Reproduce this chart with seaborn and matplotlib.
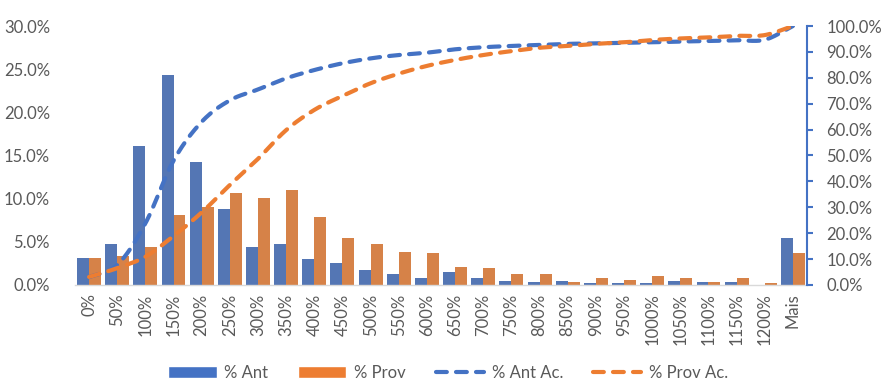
import numpy as np
import pandas as pd
import matplotlib
matplotlib.use("Agg")
import matplotlib.pyplot as plt
from matplotlib.ticker import FuncFormatter, MultipleLocator
from matplotlib.patches import Patch
import seaborn as sns

# Faixas de variação (classes do histograma)
categorias = ["0%", "50%", "100%", "150%", "200%", "250%", "300%", "350%", "400%",
              "450%", "500%", "550%", "600%", "650%", "700%", "750%", "800%", "850%",
              "900%", "950%", "1000%", "1050%", "1100%", "1150%", "1200%", "Mais"]

# Frequência relativa por classe (%)
pct_ant = [3.1, 4.7, 16.1, 24.3, 14.2, 8.8, 4.4, 4.8, 3.0, 2.6, 1.7, 1.3, 0.8,
           1.5, 0.8, 0.45, 0.35, 0.5, 0.2, 0.2, 0.2, 0.45, 0.35, 0.35, 0.05, 5.4]
pct_prov = [3.1, 3.4, 4.4, 8.1, 9.0, 10.6, 10.1, 11.0, 7.9, 5.4, 4.8, 3.8, 3.7,
            2.1, 2.0, 1.3, 1.3, 0.35, 0.8, 0.6, 1.05, 0.8, 0.35, 0.8, 0.2, 3.7]

# Frequência acumulada (%)
pct_ant_ac = [3.0, 7.7, 23.8, 48.0, 63.0, 71.3, 75.5, 79.8, 83.0, 85.6, 87.5, 88.8,
              89.7, 91.0, 91.8, 92.3, 92.7, 93.1, 93.3, 93.5, 93.7, 94.0, 94.2,
              94.5, 94.7, 100.0]
pct_prov_ac = [3.1, 6.5, 10.9, 18.9, 28.0, 38.6, 48.7, 59.8, 67.6, 73.0, 77.9, 81.6,
               84.6, 86.9, 88.8, 90.3, 91.6, 92.3, 93.1, 93.7, 94.6, 95.2, 95.6,
               96.2, 96.5, 100.0]

AZUL = "#4472C4"
LARANJA = "#ED7D31"
CINZA = "#595959"

sns.set_theme(style="white")
plt.rcParams["font.family"] = ["Lato", "DejaVu Sans"]

df = pd.DataFrame({
    "classe": categorias * 2,
    "valor": pct_ant + pct_prov,
    "serie": ["% Ant"] * len(categorias) + ["% Prov"] * len(categorias),
})

fig = plt.figure(figsize=(8.82, 3.87), dpi=100)
ax = fig.add_axes([0.085, 0.2636, 0.83, 0.6692])

sns.barplot(data=df, x="classe", y="valor", hue="serie", order=categorias,
            palette=[AZUL, LARANJA], width=0.85, gap=0, linewidth=0,
            legend=False, ax=ax)

ax.set_xlim(-0.5, len(categorias) - 0.5)
ax.set_ylim(0, 30)
ax.yaxis.set_major_locator(MultipleLocator(5))
ax.yaxis.set_major_formatter(FuncFormatter(lambda v, _: f"{v:.1f}%"))
ax.set_xlabel("")
ax.set_ylabel("")
for s in ["top", "right", "left"]:
    ax.spines[s].set_visible(False)
ax.spines["bottom"].set_color("#D9D9D9")
ax.spines["bottom"].set_linewidth(1.0)
ax.tick_params(axis="y", length=0, pad=18, labelsize=12, labelcolor=CINZA)
ax.tick_params(axis="x", length=0, pad=6, labelsize=12, labelcolor=CINZA,
               rotation=90)


def suavizar(y, n=20):
    """Curva suavizada (Catmull-Rom) passando pelos pontos dados."""
    y = np.asarray(y, dtype=float)
    x = np.arange(len(y), dtype=float)
    px = np.concatenate([[2 * x[0] - x[1]], x, [2 * x[-1] - x[-2]]])
    py = np.concatenate([[2 * y[0] - y[1]], y, [2 * y[-1] - y[-2]]])
    xs, ys = [], []
    t = np.linspace(0, 1, n, endpoint=False)

    def seg(a0, a1, a2, a3):
        return 0.5 * ((2 * a1) + (-a0 + a2) * t
                      + (2 * a0 - 5 * a1 + 4 * a2 - a3) * t ** 2
                      + (-a0 + 3 * a1 - 3 * a2 + a3) * t ** 3)

    for i in range(1, len(px) - 2):
        xs.append(seg(px[i - 1], px[i], px[i + 1], px[i + 2]))
        ys.append(seg(py[i - 1], py[i], py[i + 1], py[i + 2]))
    xs.append([x[-1]])
    ys.append([y[-1]])
    return np.concatenate(xs), np.concatenate(ys)


ax2 = ax.twinx()
xa, ya = suavizar(pct_ant_ac)
xp, yp = suavizar(pct_prov_ac)
l1, = ax2.plot(xa, ya, color=AZUL, lw=3.0, dashes=(2.6, 2.2),
               dash_capstyle="round", label="% Ant Ac.")
l2, = ax2.plot(xp, yp, color=LARANJA, lw=3.0, dashes=(2.6, 2.2),
               dash_capstyle="round", label="% Prov Ac.")
ax2.set_ylim(0, 100)
ax2.set_xlim(-0.5, len(categorias) - 0.5)
ax2.yaxis.set_major_locator(MultipleLocator(10))
ax2.yaxis.set_major_formatter(FuncFormatter(lambda v, _: f"{v:.1f}%"))
for s in ["top", "left", "bottom"]:
    ax2.spines[s].set_visible(False)
ax2.spines["right"].set_color(AZUL)
ax2.spines["right"].set_linewidth(1.5)
ax2.tick_params(axis="y", length=4, width=1.5, color=AZUL, direction="out",
                pad=10, labelsize=12, labelcolor=CINZA)
ax2.grid(False)
ax.grid(False)

handles = [Patch(facecolor=AZUL, label="% Ant"),
           Patch(facecolor=LARANJA, label="% Prov"), l1, l2]
fig.legend(handles=handles, loc="lower center", bbox_to_anchor=(0.508, -0.022),
           ncol=4, frameon=False, fontsize=12, labelcolor=CINZA,
           handlelength=2.9, handleheight=0.75, handletextpad=0.45,
           columnspacing=1.8)

fig.savefig("out.png", dpi=100)
